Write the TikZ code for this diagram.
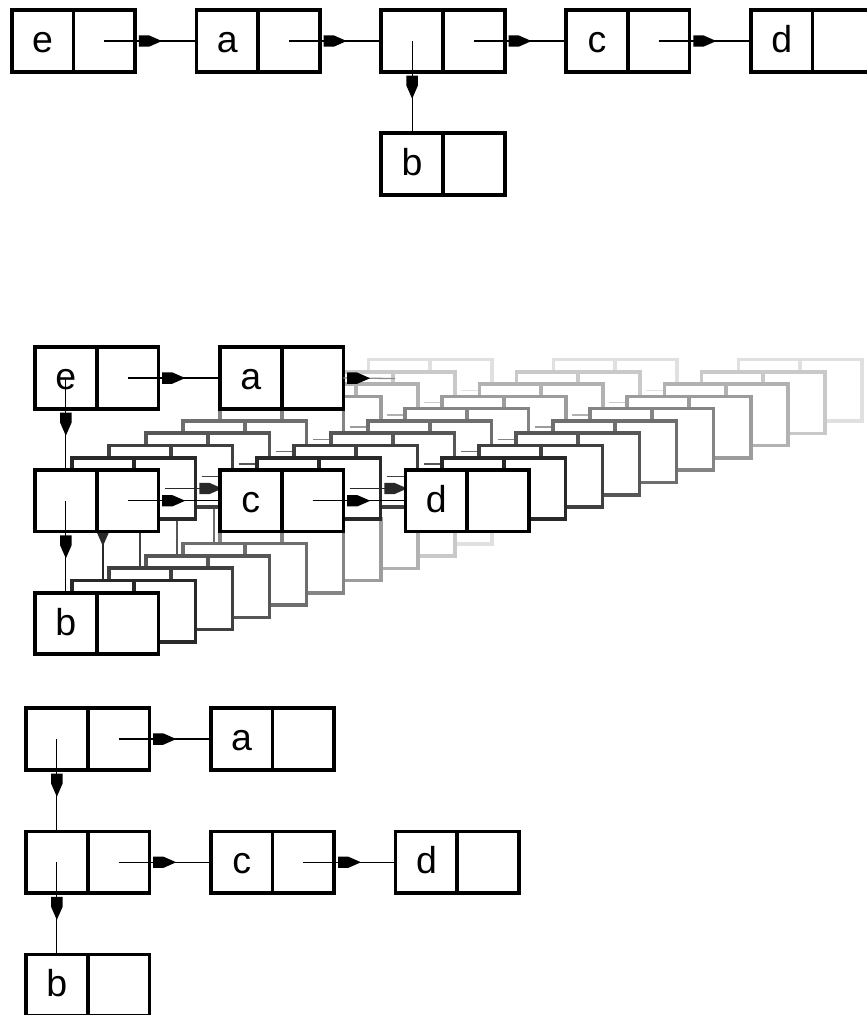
\documentclass[tikz,border=0pt]{standalone}
\usepackage{fontspec}
\setmainfont{Liberation Sans}
\usetikzlibrary{positioning,decorations.markings}
\newcommand\cellfont{\fontsize{32}{32}\selectfont}
% one cons cell: [options]{name}{x}{y}{label}
\newcommand\conscell[5][]{%
  \node[cell,#1,anchor=north west] (#2) at (#3,#4) {#5};
  \node[cell,#1,right=0pt of #2] (#2-r) {};}
\tikzset{
  cell/.style={draw, fill=white, line width=3.1pt, minimum width=1.851cm,
    minimum height=1.845cm, inner sep=0pt, outer sep=0pt, font=\cellfont,
    text height=0.7cm, text depth=0pt},
  ptr/.style={line width=1.1pt, postaction={decorate},
    decoration={markings, mark=at position #1 with
      {\fill (0,0) -- (-13,5.7) -- (-23,5.7) -- (-23,-5.7) -- (-13,-5.7) -- cycle;}}},
  ptr/.default=1.73cm
}
\begin{document}
\begin{tikzpicture}[x=0.03cm, y=-0.03cm]
  \useasboundingbox (0,0) rectangle (866,1015);
  % before
  \conscell{t-e}{11.7}{10.3}{e}
  \conscell{t-a}{196.5}{10.3}{a}
  \conscell{t-m}{381.3}{10.3}{}
  \conscell{t-c}{566.1}{10.3}{c}
  \conscell{t-d}{750.9}{10.3}{d}
  \conscell{t-b}{381.3}{133.3}{b}
  \draw[ptr] (t-e-r.center) -- (t-a.west);
  \draw[ptr] (t-a-r.center) -- (t-m.west);
  \draw[ptr] (t-m-r.center) -- (t-c.west);
  \draw[ptr] (t-c-r.center) -- (t-d.west);
  \draw[ptr] (t-m.center) -- (t-b.north);
  % moving
  \foreach \k in {1,...,9} {
    \pgfmathsetmacro\gx{405.5-37.05*\k}
    \pgfmathsetmacro\gy{347.3+12.27*\k}
    \pgfmathtruncatemacro\tone{12+9*(\k-1)}
    \conscell[draw=black!\tone]{g-m-\k}{\gx}{\gy}{}
    \conscell[draw=black!\tone]{g-c-\k}{\gx+185}{\gy}{}
    \conscell[draw=black!\tone]{g-d-\k}{\gx+370}{\gy}{}
    \conscell[draw=black!\tone]{g-b-\k}{\gx}{\gy+122.7}{}
    \draw[ptr, black!\tone] (g-m-\k-r.center) -- (g-c-\k.west);
    \draw[ptr, black!\tone] (g-c-\k-r.center) -- (g-d-\k.west);
    \draw[ptr, black!\tone] (g-m-\k.center) -- (g-b-\k.north);
  }
  \conscell{m-e}{35}{347.3}{e}
  \conscell{m-a}{220}{347.3}{a}
  \conscell{m-m}{35}{470}{}
  \conscell{m-c}{220}{470}{c}
  \conscell{m-d}{405.5}{470}{d}
  \conscell{m-b}{35}{592.7}{b}
  \coordinate (m-a-end) at (395,378.5);
  \draw[black!45, line width=1.1pt] (m-a-r.east) -- (m-a-end);
  \path[ptr=0.8cm] (m-a-r.east) -- (m-a-end);
  \draw[ptr] (m-e-r.center) -- (m-a.west);
  \draw[ptr] (m-e.center) -- (m-m.north);
  \draw[ptr] (m-m-r.center) -- (m-c.west);
  \draw[ptr] (m-c-r.center) -- (m-d.west);
  \draw[ptr] (m-m.center) -- (m-b.north);
  % after
  \conscell{b-n}{26}{708.3}{}
  \conscell{b-a}{210.8}{708.3}{a}
  \conscell{b-m}{26}{831.5}{}
  \conscell{b-c}{210.8}{831.5}{c}
  \conscell{b-d}{395.6}{831.5}{d}
  \conscell{b-b}{26}{954.5}{b}
  \draw[ptr] (b-n-r.center) -- (b-a.west);
  \draw[ptr] (b-n.center) -- (b-m.north);
  \draw[ptr] (b-m-r.center) -- (b-c.west);
  \draw[ptr] (b-c-r.center) -- (b-d.west);
  \draw[ptr] (b-m.center) -- (b-b.north);
\end{tikzpicture}
\end{document}
